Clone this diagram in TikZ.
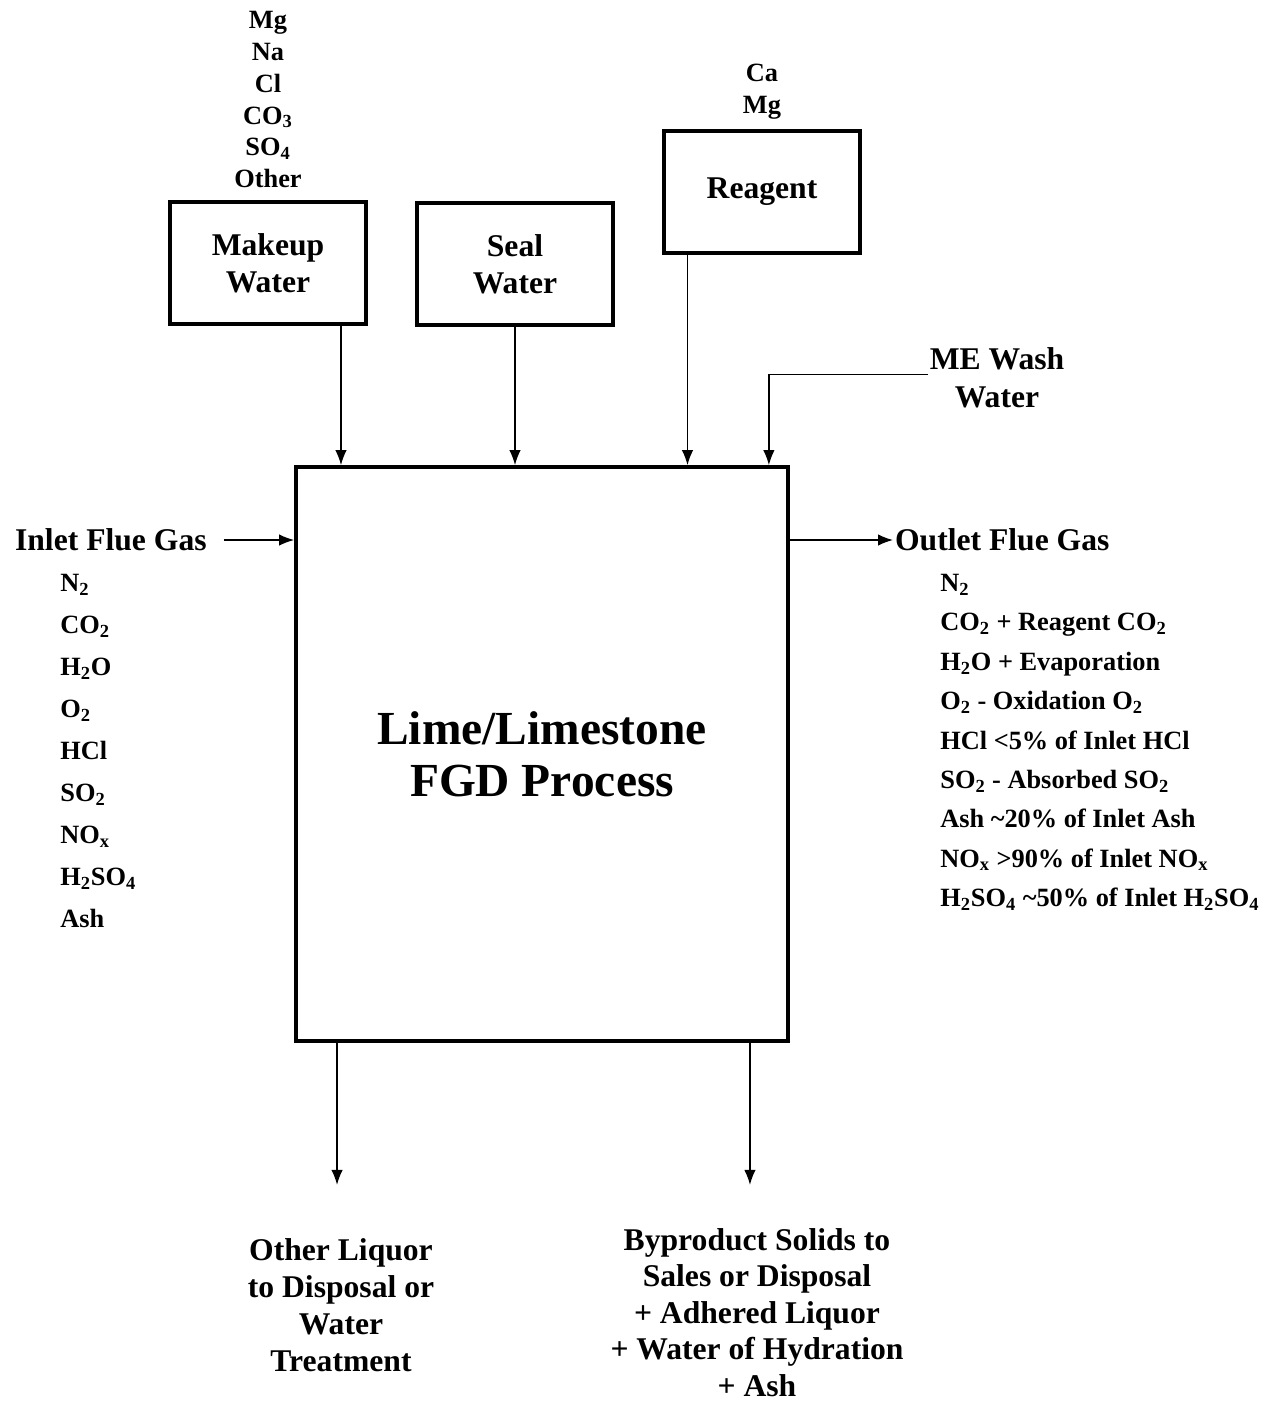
\documentclass[tikz,border=0pt]{standalone}
\usepackage{fontspec}
\setmainfont{Liberation Serif}
\usetikzlibrary{positioning,arrows.meta}

\begin{document}
\begin{tikzpicture}[x=0.02cm,y=-0.02cm,every node/.style={align=center},box/.style={draw, line width=2.2pt, minimum width=3.92cm, minimum height=2.44cm, font=\fontsize{18}{21}\selectfont\bfseries},head/.style={font=\fontsize{18}{21.5}\selectfont\bfseries, inner sep=1pt},species/.style={font=\fontsize{15}{#1}\selectfont\bfseries, inner sep=0pt},species/.default=18pt,flow/.style={line width=0.8pt, -{Latex[length=8.5pt,width=6.5pt]}}]
\useasboundingbox (0,0) rectangle (1270,1401);
\node[draw, line width=2.2pt, minimum width=9.84cm, minimum height=11.48cm, font=\fontsize{27}{29.5}\selectfont\bfseries] (fgd) at (542,754) {Lime/Limestone\\FGD Process};
\node[box] (makeup) at (268,263) {Makeup\\Water};
\node[box] (seal) at (515,264) {Seal\\Water};
\node[box] (reagent) at (762,192) {Reagent};
\node[species=18.1pt, anchor=north] (makeupions) at (268,11) {Mg\\Na\\Cl\\CO\textsubscript{3}\\SO\textsubscript{4}\\Other};
\node[species=18.1pt, anchor=north] (reagentions) at (762,64) {Ca\\Mg};
\node[head] (me) at (997,378) {ME Wash\\Water};
\node[head, anchor=west] (inlet) at (13,540) {Inlet Flue Gas};
\node[head, anchor=west] (outlet) at (893,540) {Outlet Flue Gas};
\node[species=23.9pt, anchor=north west, align=left] (inletgas) at (60,574) {N\textsubscript{2}\\CO\textsubscript{2}\\H\textsubscript{2}O\\O\textsubscript{2}\\HCl\\SO\textsubscript{2}\\NO\textsubscript{x}\\H\textsubscript{2}SO\textsubscript{4}\\Ash};
\node[species=22.4pt, anchor=north west, align=left] (outletgas) at (940,574) {N\textsubscript{2}\\CO\textsubscript{2} + Reagent CO\textsubscript{2}\\H\textsubscript{2}O + Evaporation\\O\textsubscript{2} - Oxidation O\textsubscript{2}\\HCl <5\% of Inlet HCl\\SO\textsubscript{2} - Absorbed SO\textsubscript{2}\\Ash \textasciitilde20\% of Inlet Ash\\NO\textsubscript{x} >90\% of Inlet NO\textsubscript{x}\\H\textsubscript{2}SO\textsubscript{4} \textasciitilde50\% of Inlet H\textsubscript{2}SO\textsubscript{4}};
\node[font=\fontsize{18}{21}\selectfont\bfseries, inner sep=0pt, anchor=north] (liquor) at (341,1238) {Other Liquor\\to Disposal or\\Water\\Treatment};
\node[font=\fontsize{18}{20.8}\selectfont\bfseries, inner sep=0pt, anchor=north] (solids) at (757,1228) {Byproduct Solids to\\Sales or Disposal\\+ Adhered Liquor\\+ Water of Hydration\\+ Ash};
\draw[flow] ([xshift=1.46cm]makeup.south) -- ([xshift=1.46cm]makeup.south |- fgd.north);
\draw[flow] (seal.south) -- (seal.south |- fgd.north);
\draw[flow] ([xshift=-1.49cm]reagent.south) -- ([xshift=-1.49cm]reagent.south |- fgd.north);
\draw[flow] ([yshift=2pt]me.west) -| ([xshift=-0.42cm]fgd.north east);
\draw[flow] ([xshift=0.3cm]inlet.east) -- (inlet.east -| fgd.west);
\draw[flow] (outlet.west -| fgd.east) -- (outlet.west);
\draw[flow] ([xshift=-4.1cm]fgd.south) -- ++(0,142);
\draw[flow] ([xshift=4.16cm]fgd.south) -- ++(0,142);
\end{tikzpicture}
\end{document}
